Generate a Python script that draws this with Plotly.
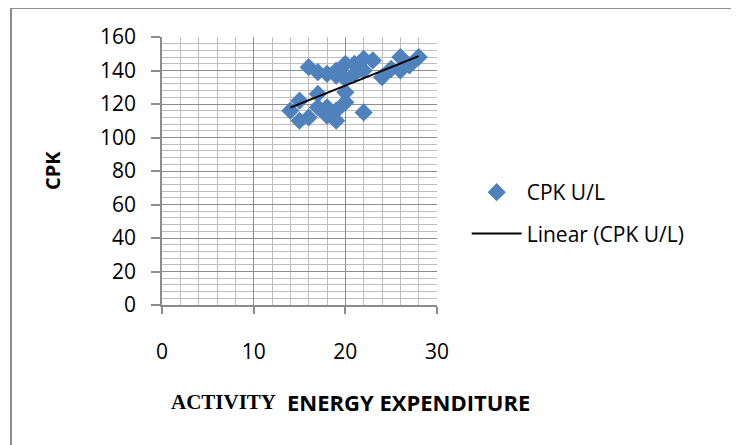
import numpy as np
import plotly.graph_objects as go

# Data
aee = [14, 15, 15, 16, 16, 17, 17, 17, 18, 18, 18, 19, 19, 19, 19, 20, 20, 20, 20,
       21, 21, 22, 22, 22, 23, 24, 25, 26, 26, 27, 28]
cpk = [116, 122, 110, 112, 142, 126, 139, 118, 138, 118, 113, 110, 137, 116, 140,
       144, 127, 121, 135, 144, 138, 147, 115, 140, 146, 136, 141, 148, 140, 143, 148]
x_ticks = [0, 10, 20, 30]
y_ticks = [0, 20, 40, 60, 80, 100, 120, 140, 160]

# Linear trend (least squares), drawn across the data's x span
slope, intercept = np.polyfit(aee, cpk, 1)
trend_x = [min(aee), max(aee)]
trend_y = [slope * v + intercept for v in trend_x]

FONT = "Open Sans"
fig = go.Figure()
fig.add_trace(go.Scatter(
    x=aee, y=cpk, mode="markers", name="CPK U/L", legendgroup="a",
    marker=dict(symbol="diamond", size=14, color="#4F81BD", line=dict(width=0)),
))
fig.add_trace(go.Scatter(
    x=trend_x, y=trend_y, mode="lines", name="Linear (CPK U/L)", legendgroup="b",
    line=dict(color="black", width=2),
))

axis_common = dict(
    showgrid=True, gridcolor="#8C8C8C", gridwidth=1.3,
    zeroline=False, showline=True, linecolor="#8C8C8C", linewidth=1.5,
    ticks="outside", tickcolor="#8C8C8C", tickwidth=1.5,
    tickfont=dict(family=FONT, size=21, color="black"),
)
fig.update_xaxes(
    range=[0, 30], tickvals=x_ticks, ticklen=7, ticklabelstandoff=20,
    minor=dict(dtick=2, showgrid=True, gridcolor="#BDBDBD", gridwidth=1.3),
    **axis_common,
)
fig.update_yaxes(
    range=[0, 160], tickvals=y_ticks, ticklen=9, ticklabelstandoff=11,
    minor=dict(dtick=4, showgrid=True, gridcolor="#BDBDBD", gridwidth=1.3),
    **axis_common,
)

fig.add_annotation(
    text="CPK", xref="paper", yref="paper", x=-0.40, y=0.5,
    xanchor="center", yanchor="middle", textangle=-90, showarrow=False,
    font=dict(family=FONT, size=20, color="black", weight="bold"),
)
fig.add_annotation(
    text="ACTIVITY", xref="paper", yref="paper", x=0.025, y=-0.362,
    xanchor="left", yanchor="middle", showarrow=False,
    font=dict(family="Liberation Serif", size=21, color="black", weight="bold"),
)
fig.add_annotation(
    text="ENERGY EXPENDITURE", xref="paper", yref="paper", x=1.345, y=-0.362,
    xanchor="right", yanchor="middle", showarrow=False,
    font=dict(family=FONT, size=22, color="black", weight="bold"),
)

# chart-area border
fig.add_shape(type="rect", xref="paper", yref="paper",
              x0=-0.549, x1=2.3, y0=-0.7, y1=1.108,
              line=dict(color="#8C8C8C", width=2), layer="below")

fig.update_layout(
    width=731, height=437,
    margin=dict(l=154, r=302, t=29, b=140),
    paper_bgcolor="white", plot_bgcolor="white",
    showlegend=True,
    legend=dict(x=1.108, y=0.496, xanchor="left", yanchor="top",
                font=dict(family=FONT, size=21, color="black"),
                tracegroupgap=11, itemwidth=50, bgcolor="rgba(0,0,0,0)"),
)

fig.write_html("out.html")
